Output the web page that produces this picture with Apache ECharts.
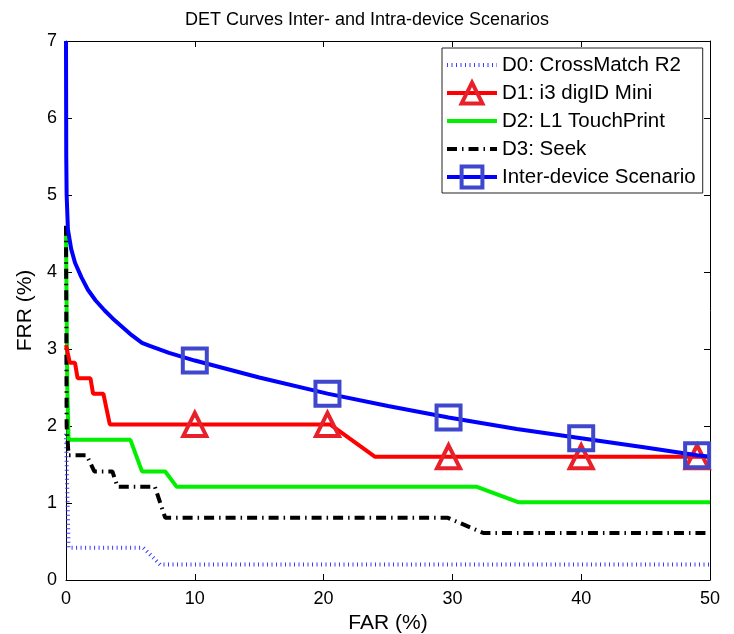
<!DOCTYPE html>
<html><head><meta charset="utf-8">
<script src="https://cdn.jsdelivr.net/npm/echarts@6/dist/echarts.min.js"></script>
<style>html,body{margin:0;padding:0;background:#fff}#c{width:734px;height:634px}</style>
</head><body><div id="c"></div>
<script>
const titleText = 'DET Curves Inter- and Intra-device Scenarios';
const xTicks = [0, 10, 20, 30, 40, 50];
const yTicks = [0, 1, 2, 3, 4, 5, 6, 7];
const names = ['D0: CrossMatch R2', 'D1: i3 digID Mini', 'D2: L1 TouchPrint', 'D3: Seek', 'Inter-device Scenario'];

const d0 = [[0,1.9],[0.2,0.42],[6.0,0.42],[7.3,0.2],[50,0.2]];
const d1 = [[0,3.05],[0.3,2.82],[0.7,2.82],[0.9,2.62],[1.9,2.62],[2.1,2.42],[2.9,2.42],[3.4,2.02],[10,2.02],[20.3,2.02],[20.5,2.02],[24,1.6],[29.7,1.6],[40,1.6],[49,1.6],[50,1.6]];
const d1Markers = [10, 20.3, 29.7, 40, 49];
const d2 = [[0,4.5],[0.1,2.5],[0.2,1.82],[5.0,1.82],[5.9,1.41],[7.7,1.41],[8.6,1.21],[31.9,1.21],[35.1,1.01],[50,1.01]];
const d3 = [[0,4.6],[0.05,2.0],[0.2,1.62],[1.6,1.62],[2.2,1.41],[3.6,1.41],[4.0,1.21],[6.9,1.21],[7.7,0.81],[29.6,0.81],[32.4,0.61],[50,0.61]];
const inter = [[0,7],[0.02,5.5],[0.05,5.0],[0.15,4.55],[0.4,4.3],[0.7,4.12],[1.2,3.93],[1.7,3.77],[2.3,3.63],[3,3.5],[3.6,3.4],[4.35,3.29],[5.1,3.18],[5.9,3.08],[6.5,3.04],[8,2.95],[10,2.85],[15,2.63],[20.3,2.42],[25,2.26],[29.7,2.11],[35,1.96],[40,1.84],[45,1.72],[49,1.62],[50,1.6]];
const interMarkers = [10, 20.3, 29.7, 40, 49];

const FONT = 'Liberation Sans';
const C = {d0:'#3a3aff', d1:'#ff0000', d1m:'#e8202a', d2:'#00f000', d3:'#000000', inter:'#0000ff', interm:'#3f48cc'};
function withMarkers(arr, marks){
  return arr.map(p => marks.includes(p[0]) ? {value:p} : {value:p, symbol:'none'});
}
const chart = echarts.init(document.getElementById('c'), null, {renderer:'canvas'});
const axisCommon = {
  type:'value', min:0,
  axisLine:{show:true, onZero:false, lineStyle:{color:'#000', width:1}},
  axisTick:{show:true, inside:true, length:6, lineStyle:{color:'#000'}},
  splitLine:{show:false},
  axisLabel:{color:'#000', fontFamily:FONT, fontSize:18}
};
const noFill = {color:'rgba(0,0,0,0)', borderWidth:0, borderColor:'rgba(0,0,0,0)'};
chart.setOption({
  animation:false,
  backgroundColor:'#fff',
  title:{text:titleText, left:'center', top:6, textStyle:{fontFamily:FONT, fontSize:18, fontWeight:'normal', color:'#000'}},
  grid:{left:66, right:24, top:41, bottom:54, containLabel:false, outerBoundsMode:'none'},
  xAxis:[
    Object.assign({}, axisCommon, {max:50, interval:10, position:'bottom', name:'FAR (%)', nameLocation:'middle', nameGap:31,
      nameTextStyle:{fontFamily:FONT, fontSize:21, color:'#000'}, axisLabel:Object.assign({}, axisCommon.axisLabel, {margin:10})}),
    Object.assign({}, axisCommon, {max:50, interval:10, position:'top', axisLabel:{show:false}})
  ],
  yAxis:[
    Object.assign({}, axisCommon, {max:7, interval:1, position:'left', name:'FRR (%)', nameLocation:'middle', nameGap:25, nameRotate:90,
      nameTextStyle:{fontFamily:FONT, fontSize:21, color:'#000'}, axisLabel:Object.assign({}, axisCommon.axisLabel, {margin:9})}),
    Object.assign({}, axisCommon, {max:7, interval:1, position:'right', axisLabel:{show:false}})
  ],
  legend:{
    orient:'vertical', left:442, top:48,
    backgroundColor:'#fff', borderColor:'#222', borderWidth:1,
    padding:[4,7,3,3], itemGap:2, itemWidth:50, itemHeight:26,
    textStyle:{fontFamily:FONT, fontSize:20.5, color:'#000', lineHeight:26},
    data:[
      {name:names[0], itemStyle:noFill, lineStyle:{width:4, color:C.d0, type:[1,3.5]}},
      {name:names[1], itemStyle:{color:'rgba(0,0,0,0)', borderColor:C.d1m, borderWidth:4}, lineStyle:{width:4, color:C.d1}},
      {name:names[2], itemStyle:noFill, lineStyle:{width:4, color:C.d2}},
      {name:names[3], itemStyle:noFill, lineStyle:{width:4, color:C.d3, type:[10,5,1.5,5]}},
      {name:names[4], itemStyle:{color:'rgba(0,0,0,0)', borderColor:C.interm, borderWidth:4}, lineStyle:{width:4, color:C.inter}}
    ]
  },
  series:[
    {name:names[0], type:'line', data:d0, symbol:'none', lineStyle:{color:C.d0, width:4, type:[1,3.5]}, itemStyle:noFill, z:2},
    {name:names[1], type:'line', data:withMarkers(d1, d1Markers), symbol:'triangle', symbolSize:[23,23], showAllSymbol:true,
      lineStyle:{color:C.d1, width:4}, itemStyle:{color:'rgba(0,0,0,0)', borderColor:C.d1m, borderWidth:4}, z:3},
    {name:names[2], type:'line', data:d2, symbol:'none', lineStyle:{color:C.d2, width:4}, itemStyle:noFill, z:2},
    {name:names[3], type:'line', data:d3, symbol:'none', lineStyle:{color:C.d3, width:4, type:[10,5,1.5,5]}, itemStyle:noFill, z:2},
    {name:names[4], type:'line', data:withMarkers(inter, interMarkers), symbol:'rect', symbolSize:24, showAllSymbol:true,
      lineStyle:{color:C.inter, width:4}, itemStyle:{color:'rgba(0,0,0,0)', borderColor:C.interm, borderWidth:4}, z:4}
  ]
});
</script></body></html>
